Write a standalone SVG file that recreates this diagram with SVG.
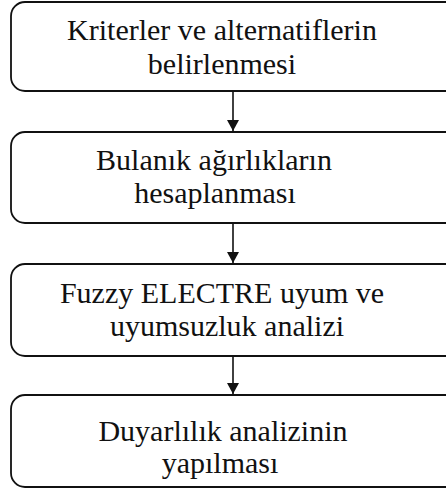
<svg xmlns="http://www.w3.org/2000/svg" width="446" height="490" viewBox="0 0 446 490">
<style>
.box{fill:#fff;stroke:#111;stroke-width:1.8}
.t{font-family:"Liberation Serif","Times New Roman",serif;font-size:30px;fill:#111;text-anchor:middle}
.c{stroke:#111;stroke-width:1.6;fill:none}
</style>
<defs>
<marker id="ah" markerWidth="12" markerHeight="12" refX="11" refY="6" orient="auto" markerUnits="userSpaceOnUse">
<path d="M0,0 L11,6 L0,12 Z" fill="#111"/>
</marker>
</defs>
<rect width="446" height="490" fill="#fff"/>
<g id="n1"><rect class="box" x="11" y="2" width="460" height="89" rx="14"/>
<text class="t" x="222" y="40">Kriterler ve alternatiflerin</text>
<text class="t" x="222" y="74">belirlenmesi</text></g>
<g id="n2"><rect class="box" x="11" y="132" width="460" height="91" rx="14"/>
<text class="t" x="214" y="170">Bulanık ağırlıkların</text>
<text class="t" x="215" y="203">hesaplanması</text></g>
<g id="n3"><rect class="box" x="11" y="264" width="460" height="92" rx="14"/>
<text class="t" x="222" y="303">Fuzzy ELECTRE uyum ve</text>
<text class="t" x="227" y="336">uyumsuzluk analizi</text></g>
<g id="n4"><rect class="box" x="11" y="395" width="460" height="92" rx="14"/>
<text class="t" x="223" y="441">Duyarlılık analizinin</text>
<text class="t" x="220" y="473">yapılması</text></g>
<g id="connectors">
<line class="c" x1="233" y1="91" x2="233" y2="131" marker-end="url(#ah)"/>
<line class="c" x1="233" y1="223" x2="233" y2="263" marker-end="url(#ah)"/>
<line class="c" x1="233" y1="356" x2="233" y2="394" marker-end="url(#ah)"/>
</g>
</svg>
